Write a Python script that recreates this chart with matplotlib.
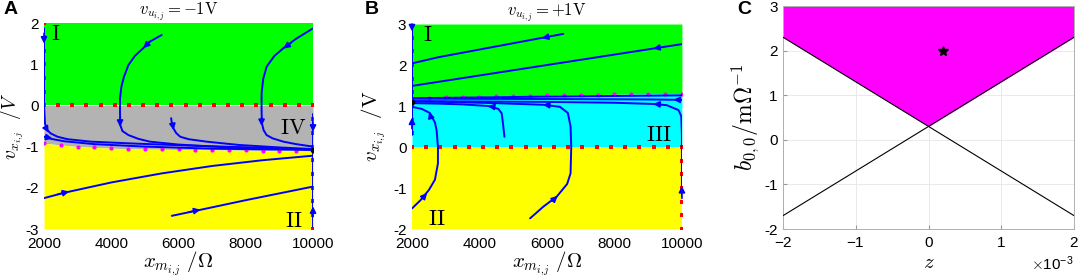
import numpy as np
import matplotlib.pyplot as plt

plt.rcParams['font.family'] = ['Liberation Sans', 'DejaVu Sans']
plt.rcParams['mathtext.fontset'] = 'cm'
plt.rcParams['axes.unicode_minus'] = False

GREEN = '#00ff00'
GRAY = '#b3b3b3'
YELLOW = '#ffff00'
CYAN = '#00ffff'
MAGENTA = '#ff00ff'
BLUE = '#0000ff'

# ---------------- panel A data (v_u = -1 V) ----------------
a_bound_x = [2000, 2500, 3000, 3500, 4000, 4500, 5000, 5500, 6000, 6500,
             7000, 7500, 8000, 8500, 9000, 9500, 10000]
a_bound_y = [-0.92, -0.96, -1.0, -1.02, -1.04, -1.05, -1.06, -1.065, -1.07, -1.075,
             -1.08, -1.085, -1.09, -1.095, -1.1, -1.1, -1.11]
a_zero_x = [2000, 2421, 2842, 3263, 3684, 4105, 4526, 4947, 5368, 5789,
            6211, 6632, 7053, 7474, 7895, 8316, 8737, 9158, 9579, 10000]
a_left_y = [2.0, 1.67, 1.33, 1.0, 0.67, 0.33, 0.0]
a_right_y = [0.0, -0.33, -0.67, -1.0, -1.33, -1.67, -2.0, -2.33, -2.67, -3.0]

a_trajs = [
    ([2000, 2000, 2000, 2030, 2100, 2200, 2400, 2700, 3400, 4800, 6500, 8500, 10000],
     [1.87, 1.0, 0.0, -0.45, -0.6, -0.68, -0.76, -0.82, -0.88, -0.93, -0.98, -1.03, -1.07]),
    ([2000, 2200, 2600, 3500, 5000, 7000, 10000],
     [-0.76, -0.81, -0.87, -0.94, -1.0, -1.05, -1.08]),
    ([5500, 5150, 4950, 4700, 4510, 4380, 4300, 4260, 4260, 4270, 4330, 4510, 4800, 5150, 6000, 7500, 10000],
     [1.71, 1.55, 1.39, 1.2, 0.98, 0.7, 0.45, 0.17, -0.2, -0.48, -0.62, -0.72, -0.81, -0.88, -0.95, -1.02, -1.07]),
    ([5780, 5800, 5850, 5930, 6050, 6300, 6840, 7800, 9000, 10000],
     [-0.31, -0.42, -0.56, -0.67, -0.76, -0.82, -0.88, -0.96, -1.02, -1.06]),
    ([10000, 9500, 9120, 8850, 8620, 8520, 8470, 8470, 8480, 8530, 8620, 8800, 9120, 9500, 10000],
     [1.87, 1.62, 1.39, 1.2, 0.94, 0.65, 0.29, -0.1, -0.43, -0.6, -0.72, -0.8, -0.88, -0.94, -1.0]),
    ([2000, 2600, 4000, 5500, 7000, 8500, 10000],
     [-2.25, -2.12, -1.87, -1.65, -1.47, -1.33, -1.22]),
    ([5800, 6500, 8000, 10000],
     [-2.68, -2.56, -2.3, -1.97]),
    ([10000, 10000], [-0.22, -1.08]),
    ([10000, 10000], [-2.94, -1.1]),
]
# arrows: (tail x, tail y, head x, head y)
a_arrows = [
    (2000, 1.75, 2000, 1.5),
    (5150, 1.55, 4950, 1.39),
    (4260, -0.3, 4262, -0.52),
    (5820, -0.45, 5855, -0.6),
    (9350, 1.52, 9120, 1.38),
    (8470, -0.3, 8472, -0.5),
    (2060, -0.55, 2140, -0.66),
    (2050, -0.77, 2250, -0.8),
    (2400, -2.16, 2750, -2.09),
    (6300, -2.59, 6650, -2.53),
    (10000, -0.4, 10000, -0.64),
    (10000, -2.7, 10000, -2.45),
]
a_fixed = (10000, -1.08)

# ---------------- panel B data (v_u = +1 V) ----------------
b_bound_x = a_bound_x
b_bound_y = [1.17, 1.19, 1.21, 1.22, 1.23, 1.24, 1.25, 1.255, 1.26, 1.27,
             1.275, 1.28, 1.285, 1.29, 1.295, 1.3, 1.3]
b_zero_x = a_zero_x
b_left_y = [3.0, 2.67, 2.33, 2.0, 1.67, 1.33, 1.0, 0.67, 0.33, 0.0]
b_right_y = [0.0, -0.33, -0.67, -1.0, -1.33, -1.67, -2.0]

b_trajs = [
    ([2000, 2000], [3.0, 1.19]),
    ([2000, 2780, 6485], [2.04, 2.19, 2.76]),
    ([2000, 10000], [1.49, 2.51]),
    ([2000, 6000, 10000], [1.19, 1.23, 1.26]),
    ([2000, 6000, 9000, 10000], [1.18, 1.17, 1.16, 1.15]),
    ([2000, 2000], [0.29, 1.1]),
    ([2000, 2250, 2500, 2680, 2770, 2770, 2730, 2680, 2530, 2290, 2000],
     [-1.5, -1.3, -1.05, -0.8, -0.4, 0.0, 0.41, 0.6, 0.83, 0.93, 0.98]),
    ([4740, 4700, 4660, 4560, 4260, 3500, 2700, 2000],
     [0.25, 0.55, 0.82, 0.93, 1.0, 1.04, 1.06, 1.07]),
    ([5500, 5900, 6290, 6600, 6700, 6720, 6700, 6620, 6385, 5900, 4500, 3000, 2000],
     [-1.74, -1.45, -1.21, -0.9, -0.64, 0.0, 0.5, 0.83, 0.98, 1.03, 1.07, 1.1, 1.11]),
    ([10000, 10000, 10000, 9980, 9900, 9550, 9150, 8000, 6000, 4000, 2000],
     [-1.2, -1.0, 0.3, 0.75, 0.9, 1.02, 1.05, 1.08, 1.1, 1.11, 1.12]),
]
b_arrows = [
    (2000, 3.0, 2000, 2.82),
    (6050, 2.69, 5850, 2.655),
    (9350, 2.43, 9150, 2.40),
    (9950, 1.15, 9750, 1.153),
    (2000, 0.45, 2000, 0.72),
    (2300, -1.26, 2450, -1.12),
    (2570, 0.7, 2510, 0.86),
    (4420, 0.98, 4250, 1.0),
    (6150, -1.32, 6320, -1.19),
    (6080, 1.02, 5880, 1.03),
    (10000, -1.25, 10000, -0.95),
    (9350, 1.04, 9150, 1.05),
]
b_fixed = (2000, 1.1)

# ---------------- panel C data ----------------
c_z = [-2e-3, 0.0, 2e-3]
c_b_upper = [2.3, 0.3, 2.3]
c_line1 = [2.3, -1.7]
c_line2 = [-1.7, 2.3]
c_star = (0.2e-3, 2.0)


def draw_phase(ax, trajs, arrows, fixed):
    for xs, ys in trajs:
        ax.plot(xs, ys, color=BLUE, lw=1.4, solid_capstyle='round', zorder=4)
    for x0, y0, x1, y1 in arrows:
        ax.annotate('', xy=(x1, y1), xytext=(x0, y0),
                    arrowprops=dict(arrowstyle='-|>', color=BLUE, lw=1.2,
                                    mutation_scale=9, shrinkA=0, shrinkB=0),
                    zorder=5)
    ax.plot(*fixed, 'o', color='black', ms=3, zorder=6)


def style_phase(ax, ylim, yticks):
    ax.set_xlim(2000, 10000)
    ax.set_ylim(*ylim)
    ax.set_xticks([2000, 4000, 6000, 8000, 10000])
    ax.set_yticks(yticks)
    ax.tick_params(length=0, labelsize=11)
    ax.tick_params(axis='x', pad=6)
    ax.tick_params(axis='y', pad=4)
    for s in ax.spines.values():
        s.set_visible(False)
    ax.set_xlabel(r'$x_{m_{i,\!j}}\ /\Omega$', fontsize=15, labelpad=-1)


def red_dots(ax, xs, ys):
    ax.plot(xs, ys, 's', color='red', ms=2.6, mew=0, zorder=3)


fig = plt.figure(figsize=(10.79, 2.8), dpi=100)

# ---- A ----
axA = fig.add_axes([0.0408, 0.1821, 0.2493, 0.7357])
axA.fill_between(a_bound_x, 0, 2, color=GREEN, lw=0, zorder=1)
axA.fill_between(a_bound_x, a_bound_y, 0, color=GRAY, lw=0, zorder=1)
axA.fill_between(a_bound_x, -3, a_bound_y, color=YELLOW, lw=0, zorder=1)
red_dots(axA, a_zero_x, [0] * len(a_zero_x))
red_dots(axA, [2000] * len(a_left_y), a_left_y)
red_dots(axA, [10000] * len(a_right_y), a_right_y)
axA.plot(a_bound_x, a_bound_y, 'o', color=MAGENTA, ms=3, mew=0, zorder=3)
draw_phase(axA, a_trajs, a_arrows, a_fixed)
style_phase(axA, (-3, 2), [-3, -2, -1, 0, 1, 2])
axA.set_ylabel(r'$v_{x_{i,\!j}}\ \ /V$', fontsize=14)
axA.yaxis.set_label_coords(-0.068, 0.5)
axA.set_title(r'$v_{u_{i,\!j}}=-1\mathrm{V}$', fontsize=12, pad=3)

# ---- B ----
axB = fig.add_axes([0.3818, 0.1821, 0.2502, 0.7321])
axB.fill_between(b_bound_x, b_bound_y, 3, color=GREEN, lw=0, zorder=1)
axB.fill_between(b_bound_x, 0, b_bound_y, color=CYAN, lw=0, zorder=1)
axB.fill_between(b_bound_x, -2, 0, color=YELLOW, lw=0, zorder=1)
red_dots(axB, b_zero_x, [0] * len(b_zero_x))
red_dots(axB, [2000] * len(b_left_y), b_left_y)
red_dots(axB, [10000] * len(b_right_y), b_right_y)
axB.plot(b_bound_x, b_bound_y, 'o', color=MAGENTA, ms=3, mew=0, zorder=3)
draw_phase(axB, b_trajs, b_arrows, b_fixed)
style_phase(axB, (-2, 3), [-2, -1, 0, 1, 2, 3])
axB.set_ylabel(r'$v_{x_{i,\!j}}\ \ /\mathrm{V}$', fontsize=15)
axB.yaxis.set_label_coords(-0.09, 0.5)
axB.set_title(r'$v_{u_{i,\!j}}=+1\mathrm{V}$', fontsize=12, pad=3)

region_labels = [
    (axA, r'$\mathrm{I}$', 2360, 1.72),
    (axA, r'$\mathrm{IV}$', 9420, -0.56),
    (axA, r'$\mathrm{II}$', 9420, -2.82),
    (axB, r'$\mathrm{I}$', 2480, 2.73),
    (axB, r'$\mathrm{III}$', 9300, 0.29),
    (axB, r'$\mathrm{II}$', 2730, -1.78),
]
for ax, txt, x, y in region_labels:
    ax.text(x, y, txt, fontsize=16, ha='center', va='center', zorder=7)

# ---- C ----
axC = fig.add_axes([0.7257, 0.1821, 0.2697, 0.7964])
axC.fill_between(c_z, c_b_upper, 3, color=MAGENTA, lw=0, zorder=1)
axC.plot([c_z[0], c_z[-1]], c_line1, color='black', lw=0.8, zorder=3)
axC.plot([c_z[0], c_z[-1]], c_line2, color='black', lw=0.8, zorder=3)
axC.plot(*c_star, marker='*', color='black', ms=7, zorder=4)
axC.set_xlim(-2e-3, 2e-3)
axC.set_ylim(-2, 3)
axC.set_xticks([-2e-3, -1e-3, 0, 1e-3, 2e-3])
axC.set_yticks([-2, -1, 0, 1, 2, 3])
axC.ticklabel_format(axis='x', style='sci', scilimits=(0, 0), useMathText=True)
axC.grid(True, color='#e6e6e6', lw=0.6, zorder=0)
axC.set_axisbelow(True)
axC.tick_params(direction='in', length=3, color='#999999', labelsize=11)
axC.tick_params(axis='x', pad=5)
axC.tick_params(axis='y', pad=4)
for s in axC.spines.values():
    s.set_color('#b0b0b0')
    s.set_linewidth(0.7)
axC.xaxis.get_offset_text().set_fontsize(11)
axC.set_xlabel(r'$z$', fontsize=15, labelpad=2)
axC.set_ylabel(r'$b_{0,0}/\mathrm{m}\Omega^{-1}$', fontsize=17, labelpad=2)

for letter, x in [('A', 0.003), ('B', 0.338), ('C', 0.683)]:
    fig.text(x, 0.965, letter, fontsize=14, fontweight='bold', ha='left', va='center')

fig.savefig('out.png', dpi=100)
